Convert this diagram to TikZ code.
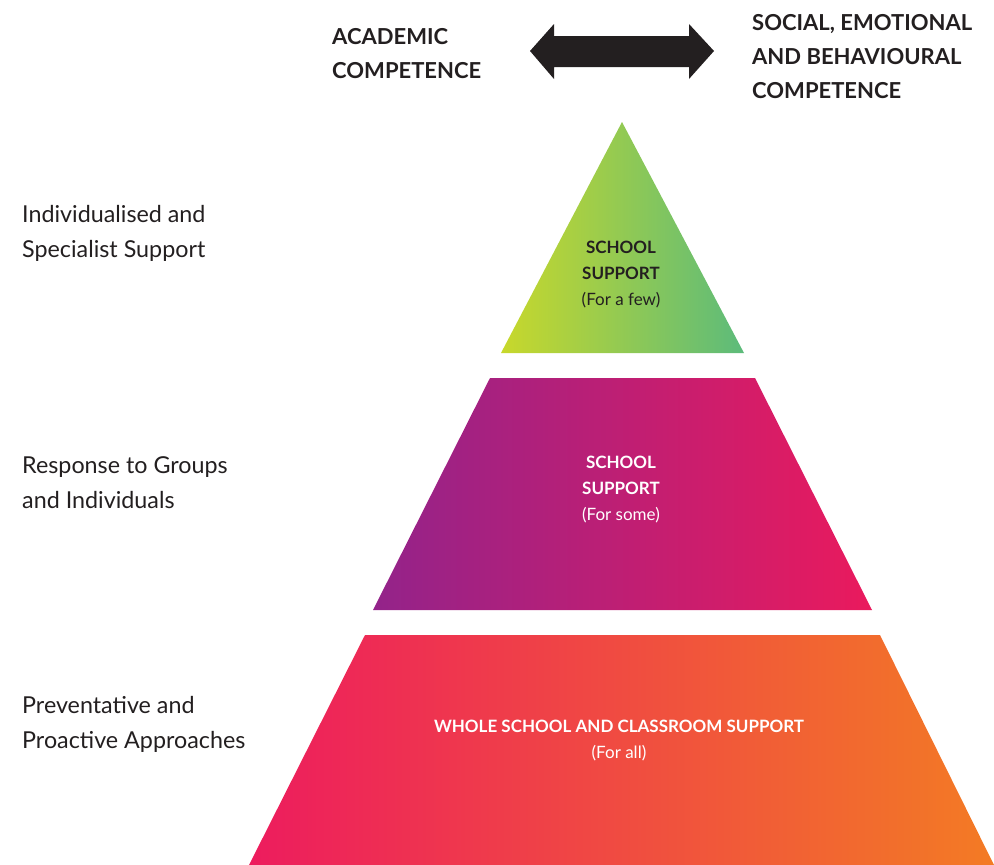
\documentclass[tikz,border=0pt]{standalone}
\usepackage{fontspec}
\setmainfont{Lato}
\definecolor{ink}{HTML}{231F20}
\definecolor{triL}{HTML}{C8D82B}
\definecolor{triR}{HTML}{5CBB7B}
\definecolor{midL}{HTML}{93238A}
\definecolor{midR}{HTML}{EA1A5D}
\definecolor{botL}{HTML}{ED1C5E}
\definecolor{botR}{HTML}{F37B24}
\tikzset{
  head/.style={inner sep=0pt, anchor=base west, align=left, text=ink, font=\fontsize{22}{34}\selectfont\bfseries},
  side/.style={inner sep=0pt, anchor=base west, align=left, text=ink, font=\fontsize{23.3}{35}\selectfont},
  tier/.style={inner sep=0pt, anchor=base, align=center, font=\fontsize{17}{26}\selectfont\bfseries},
}
\begin{document}
\begin{tikzpicture}[x=1pt,y=-1pt]
\useasboundingbox (0,0) rectangle (994,865);
% tiers
\shade[left color=triL, right color=triR] (622,122) -- (744,353) -- (501,353) -- cycle;
\shade[left color=midL, right color=midR] (490,378) -- (755,378) -- (872,610) -- (373,610) -- cycle;
\shade[left color=botL, right color=botR] (365,635) -- (880,635) -- (994,865) -- (249,865) -- cycle;
% double arrow
\fill[ink] (530,51) -- (554,24) -- (554,36) -- (689,36) -- (689,24) -- (714,51)
  -- (689,79) -- (689,67) -- (554,67) -- (554,79) -- cycle;
% headings (anchor = baseline of last line)
\node[head] (acad) at (332,78) {ACADEMIC\\COMPETENCE};
\node[head] (seb) at (752,98) {SOCIAL, EMOTIONAL\\AND BEHAVIOURAL\\COMPETENCE};
% side labels
\node[side] (ind) at (22,257) {Individualised and\\Specialist Support};
\node[side] (resp) at (22,508) {Response to Groups\\and Individuals};
\node[side] (prev) at (22,748) {Preventative and\\Proactive Approaches};
% tier texts
\node[tier, text=ink] (few) at (621,305) {SCHOOL\\SUPPORT\\{\mdseries(For a few)}};
\node[tier, text=white] (some) at (621,520) {SCHOOL\\SUPPORT\\{\mdseries(For some)}};
\node[tier, text=white] (all) at (619,758) {WHOLE SCHOOL AND CLASSROOM SUPPORT\\{\mdseries(For all)}};
\end{tikzpicture}
\end{document}
